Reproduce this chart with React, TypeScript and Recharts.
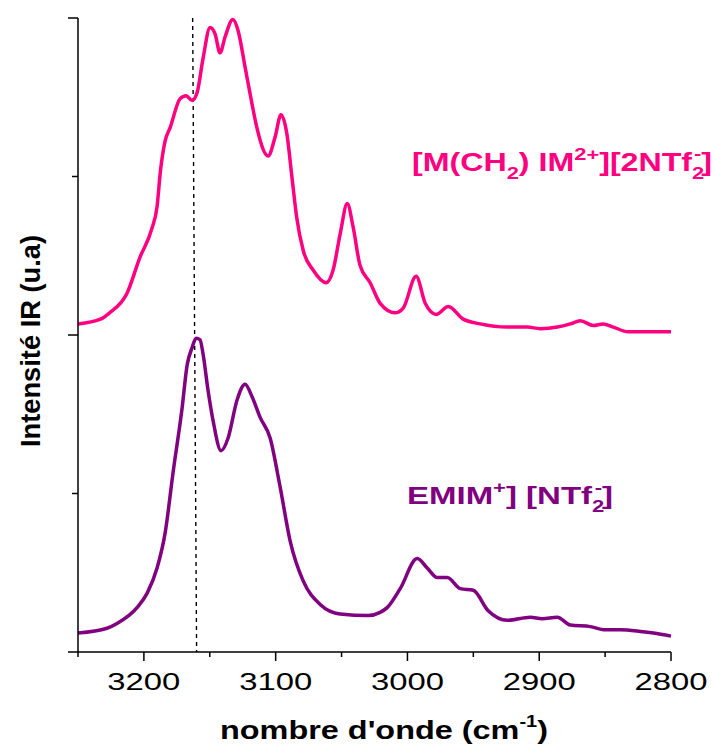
import React from "react";
import { LineChart, Line, XAxis, YAxis, ReferenceLine } from "recharts";

// wavenumber (cm-1) and intensity (a.u.)
const pinkWave = [
  3250, 3233, 3226, 3213, 3203, 3194, 3190, 3187.5, 3184, 3180, 3172.6, 3168,
  3163.4, 3159.6, 3155, 3149.8, 3146, 3142.2, 3138.4, 3132.5, 3128.5, 3123.2,
  3118, 3114.3, 3105.7, 3100.4, 3096, 3091.5, 3087.7, 3084, 3079, 3071.6,
  3061.7, 3056.4, 3051, 3045.7, 3041.2, 3036, 3028.3, 3020.7, 3009.3, 3003.2,
  2993.4, 2986.5, 2978.2, 2969, 2957.7, 2944.8, 2924.3, 2909, 2899.2, 2886.3,
  2876.4, 2868.8, 2859, 2851.4, 2843.8, 2832.4, 2818, 2800,
];
const pinkInt = [
  2.07, 2.1, 2.14, 2.26, 2.49, 2.67, 2.81, 3.03, 3.22, 3.31, 3.49, 3.51, 3.48,
  3.53, 3.75, 3.94, 3.9, 3.78, 3.88, 3.99, 3.92, 3.69, 3.46, 3.31, 3.13, 3.25,
  3.39, 3.27, 3.0, 2.74, 2.53, 2.41, 2.33, 2.41, 2.64, 2.83, 2.68, 2.44, 2.33,
  2.2, 2.14, 2.17, 2.37, 2.2, 2.13, 2.18, 2.1, 2.07, 2.05, 2.05, 2.04, 2.05,
  2.07, 2.09, 2.06, 2.07, 2.05, 2.02, 2.02, 2.02,
];

const purpleWave = [
  3250, 3228, 3220.4, 3205.2, 3197.6, 3190, 3183.9, 3177.9, 3171, 3167.2,
  3163.4, 3160.4, 3157.4, 3155.1, 3151.3, 3147.5, 3141.4, 3136.1, 3129.3,
  3123.2, 3117.9, 3111.8, 3104.2, 3096.6, 3089, 3079.2, 3066.2, 3051.1,
  3029.8, 3020.7, 3015.4, 3005.5, 2992.6, 2985, 2977.4, 2969.8, 2959.9,
  2950.1, 2938.7, 2924.3, 2906.8, 2897.7, 2886.3, 2876.4, 2861.2, 2849.9,
  2838.5, 2823.3, 2813.4, 2800,
];
const purpleInt = [
  0.12, 0.15, 0.18, 0.28, 0.37, 0.53, 0.75, 1.13, 1.54, 1.81, 1.92, 1.98,
  1.97, 1.88, 1.65, 1.46, 1.27, 1.35, 1.59, 1.69, 1.61, 1.48, 1.35, 1.04, 0.7,
  0.45, 0.3, 0.24, 0.23, 0.25, 0.28, 0.4, 0.59, 0.53, 0.47, 0.47, 0.4, 0.39,
  0.26, 0.2, 0.22, 0.21, 0.22, 0.17, 0.16, 0.14, 0.14, 0.13, 0.12, 0.1,
];

const xTicks = [3250, 3200, 3150, 3100, 3050, 3000, 2950, 2900, 2850, 2800];
const yTicks = [0, 1, 2, 3, 4];
const dashedLine = [
  { x: 3163, y: 4 },
  { x: 3160, y: 0 },
];

const PINK = "#ff0080";
const PURPLE = "#800080";
const FONT = "'Liberation Sans', Arial, sans-serif";

const pinkData = pinkWave.map((w, i) => ({ w, v: pinkInt[i] }));
const purpleData = purpleWave.map((w, i) => ({ w, v: purpleInt[i] }));

function XTick(props: any) {
  const { x, y, payload } = props;
  const major = payload.value % 100 === 0;
  return (
    <g>
      <line x1={x} y1={y} x2={x} y2={y + (major ? 9 : 5)} stroke="#000" strokeWidth={1.5} />
      {major && (
        <text
          x={x}
          y={y + 38}
          textAnchor="middle"
          fontFamily={FONT}
          fontSize={24}
          textLength={73}
          lengthAdjust="spacingAndGlyphs"
          fill="#000"
        >
          {payload.value}
        </text>
      )}
    </g>
  );
}

function YTick(props: any) {
  const { x, y, payload } = props;
  const major = payload.value % 2 === 0;
  return <line x1={x} y1={y} x2={x - (major ? 10 : 6)} y2={y} stroke="#000" strokeWidth={1.5} />;
}

export default function App() {
  return (
    <div style={{ position: "absolute", left: 0, top: 0, width: 715, height: 745, background: "#fff" }}>
      <LineChart width={715} height={745} margin={{ top: 18, right: 44, bottom: 0, left: 0 }}>
        <XAxis
          type="number"
          dataKey="w"
          domain={[2800, 3250]}
          reversed
          ticks={xTicks}
          interval={0}
          height={93}
          tickSize={0}
          tickMargin={0}
          tick={<XTick />}
          axisLine={{ stroke: "#000", strokeWidth: 1.5 }}
        />
        <YAxis
          type="number"
          domain={[0, 4]}
          ticks={yTicks}
          interval={0}
          width={78}
          tickSize={0}
          tickMargin={0}
          tick={<YTick />}
          axisLine={{ stroke: "#000", strokeWidth: 1.5 }}
        />
        <ReferenceLine segment={dashedLine} stroke="#000" strokeWidth={1.4} strokeDasharray="4 4" />
        <Line
          data={pinkData}
          dataKey="v"
          type="monotone"
          stroke={PINK}
          strokeWidth={3.5}
          dot={false}
          isAnimationActive={false}
        />
        <Line
          data={purpleData}
          dataKey="v"
          type="monotone"
          stroke={PURPLE}
          strokeWidth={3.5}
          dot={false}
          isAnimationActive={false}
        />
      </LineChart>
      <svg
        width={715}
        height={745}
        style={{ position: "absolute", left: 0, top: 0, pointerEvents: "none" }}
        fontFamily={FONT}
        fontWeight="bold"
      >
        <text x={220} y={739} fontSize={26} textLength={328} lengthAdjust="spacingAndGlyphs" fill="#000">
          nombre d'onde (cm
          <tspan fontSize={16} dy={-12}>-1</tspan>
          <tspan dy={12}>)</tspan>
        </text>
        <text
          transform="translate(40, 447) rotate(-90)"
          x={0}
          y={0}
          fontSize={27}
          textLength={212}
          lengthAdjust="spacingAndGlyphs"
          fill="#000"
        >
          Intensité IR (u.a)
        </text>
        <text x={412} y={171} fontSize={25} textLength={300} lengthAdjust="spacingAndGlyphs" fill={PINK}>
          [M(CH
          <tspan fontSize={17} dy={8}>2</tspan>
          <tspan dy={-8}>) IM</tspan>
          <tspan fontSize={17} dy={-11}>2+</tspan>
          <tspan dy={11}>][2NTf</tspan>
          <tspan fontSize={17} dy={8}>2</tspan>
          <tspan fontSize={17} dx={-8} dy={-20}>-</tspan>
          <tspan dy={12}>]</tspan>
        </text>
        <text x={407} y={504} fontSize={24} textLength={206} lengthAdjust="spacingAndGlyphs" fill={PURPLE}>
          EMIM
          <tspan fontSize={16} dy={-11}>+</tspan>
          <tspan dy={11}>] [NTf</tspan>
          <tspan fontSize={16} dy={8}>2</tspan>
          <tspan fontSize={16} dx={-7} dy={-19}>-</tspan>
          <tspan dy={11}>]</tspan>
        </text>
      </svg>
    </div>
  );
}
